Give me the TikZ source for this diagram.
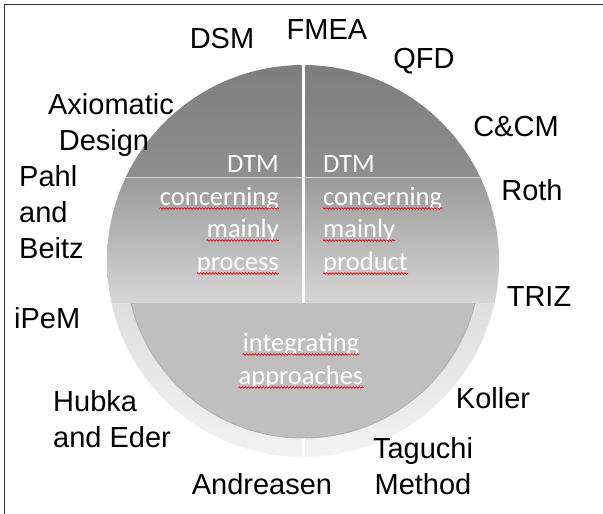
\documentclass[tikz,border=0pt]{standalone}
\usepackage{fontspec}
\setmainfont{Liberation Sans}
\newfontfamily\calfont{Carlito}
\usetikzlibrary{decorations.pathmorphing}
\definecolor{gA}{HTML}{7D7D7D}
\definecolor{gB}{HTML}{8F8F8F}
\definecolor{gC}{HTML}{9A9A9A}
\definecolor{gD}{HTML}{D6D6D6}
\definecolor{gE}{HTML}{DEDEDE}
\definecolor{gF}{HTML}{F3F3F3}
\definecolor{segfill}{HTML}{BFBFBF}
\definecolor{segrim}{HTML}{B3B3B3}
\definecolor{splitline}{HTML}{D8D8D8}
\definecolor{frame}{HTML}{333333}
\tikzset{
  lab/.style={font=\fontsize{29}{36}\selectfont, inner sep=0pt, align=center, text=black},
  labl/.style={font=\fontsize{29}{36}\selectfont, inner sep=0pt, align=left, text=black},
  inw/.style={font=\calfont\fontsize{26.5}{32}\selectfont, text=white, inner sep=0pt},
  spell/.style={draw=red, line width=0.7pt, decorate, decoration={snake, amplitude=0.8pt, segment length=3pt}}
}
\begin{document}
\begin{tikzpicture}[x=1pt,y=-1pt]
\useasboundingbox (0,0) rectangle (603,514);
\fill[white] (0,0) rectangle (603,514);
\draw[frame, line width=1pt] (4.5,514) -- (4.5,4.5) -- (603,4.5);
\coordinate (O) at (303,261);
\begin{scope}
  \clip (O) circle[radius=196pt];
  \shade[top color=gA, bottom color=gB] (100,60) rectangle (510,177);
  \shade[top color=gC, bottom color=gD] (100,177) rectangle (510,303);
  \shade[top color=gE, bottom color=gF] (100,303) rectangle (510,460);
  \draw[splitline, line width=1pt] (100,177) -- (510,177);
  \draw[white, line width=3pt] (303,60) -- (303,303);
  \draw[white, line width=3pt] (303,420) -- (303,460);
\end{scope}
\begin{scope}
  \clip (100,303) rectangle (510,460);
  \filldraw[fill=segfill, draw=segrim, line width=1pt] (O) circle[radius=177pt];
\end{scope}
% inner texts
\node[inw, anchor=base east] (dtmL) at (279,172) {DTM};
\node[inw, anchor=base east] (cL) at (279,205) {concerning};
\node[inw, anchor=base east] (mL) at (279,237) {mainly};
\node[inw, anchor=base east] (pL) at (279,270) {process};
\node[inw, anchor=base west] (dtmR) at (323,172) {DTM};
\node[inw, anchor=base west] (cR) at (323,205) {concerning};
\node[inw, anchor=base west] (mR) at (323,237) {mainly};
\node[inw, anchor=base west] (pR) at (323,270) {product};
\node[inw, anchor=base] (iA) at (301,351) {integrating};
\node[inw, anchor=base] (aA) at (301,384) {approaches};
\foreach \w in {cL,mL,pL,cR,mR,pR,iA,aA}
  \draw[spell] ([yshift=-3.5pt]\w.base west) -- ([yshift=-3.5pt]\w.base east);
% outer labels (multi-line nodes: base = last line)
\node[lab, anchor=base] (dsm) at (222,48) {DSM};
\node[lab, anchor=base] (fmea) at (327,39) {FMEA};
\node[lab, anchor=base] (qfd) at (424,68) {QFD};
\node[lab, anchor=base] (axd) at (111,150) {Axiomatic\\Design\hspace*{14pt}};
\node[lab, anchor=base] (ccm) at (516,136) {C\&CM};
\node[labl, anchor=base west] (pb) at (19,258) {Pahl\\and\\Beitz};
\node[lab, anchor=base] (roth) at (532,200) {Roth};
\node[lab, anchor=base] (triz) at (539,306) {TRIZ};
\node[lab, anchor=base west] (ipem) at (14,328) {iPeM};
\node[labl, anchor=base west] (hub) at (53,447) {Hubka\\and Eder};
\node[lab, anchor=base] (kol) at (493,408) {Koller};
\node[lab, anchor=base] (tag) at (423,494) {Taguchi\\Method};
\node[lab, anchor=base] (and) at (262,494) {Andreasen};
\end{tikzpicture}
\end{document}
